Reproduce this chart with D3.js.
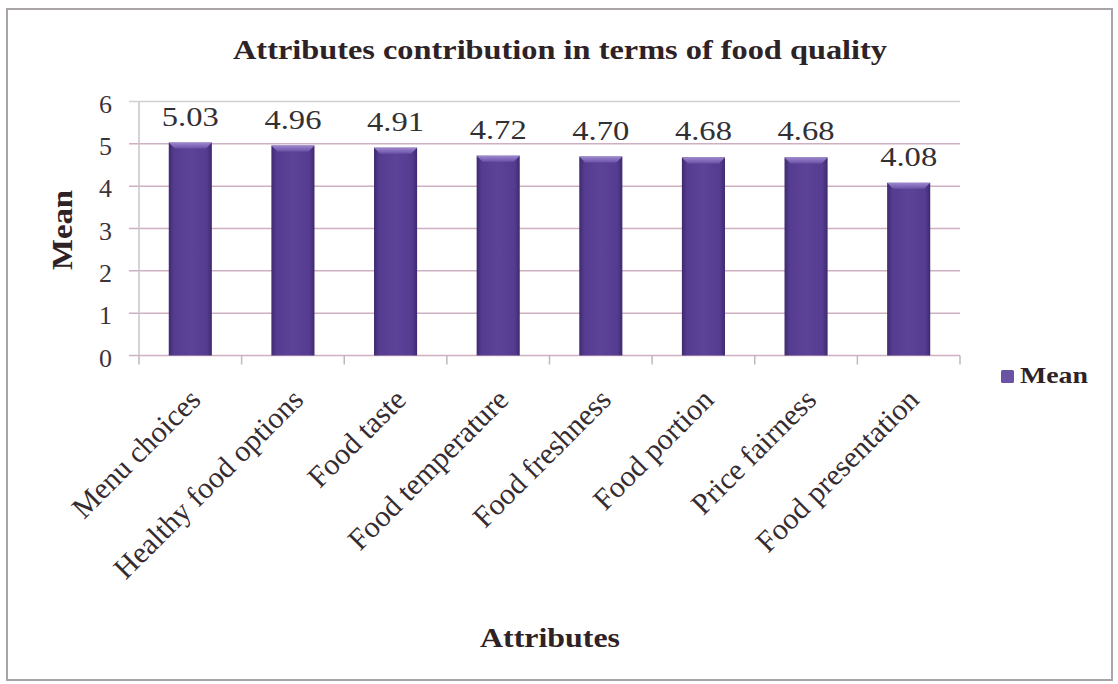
<!DOCTYPE html>
<html>
<head>
<meta charset="utf-8">
<script src="https://cdn.jsdelivr.net/npm/d3@7"></script>
<style>
  html, body { margin: 0; padding: 0; background: #fff; }
  svg { display: block; }
</style>
</head>
<body>
<svg id="chart" width="1118" height="684"></svg>
<script>
// Attribute means for food quality
const categories = ["Menu choices", "Healthy food options", "Food taste", "Food temperature",
  "Food freshness", "Food portion", "Price fairness", "Food presentation"];
const meanValues = [5.03, 4.96, 4.91, 4.72, 4.70, 4.68, 4.68, 4.08];
const valueLabels = ["5.03", "4.96", "4.91", "4.72", "4.70", "4.68", "4.68", "4.08"];
const yTicks = [0, 1, 2, 3, 4, 5, 6];
const seriesName = "Mean";

const svg = d3.select("#chart");
const W = 1118, H = 684;
const serif = "'Liberation Serif', 'Times New Roman', serif";

// outer frame
svg.append("rect").attr("x", 7).attr("y", 9).attr("width", W - 13).attr("height", H - 13)
  .attr("fill", "#fff").attr("stroke", "#a9a4a8").attr("stroke-width", 2);

const plot = { left: 139, right: 960, top: 101.5, bottom: 355.5 };

const x = d3.scaleBand().domain(categories).range([plot.left, plot.right]).paddingInner(0.58).paddingOuter(0.29);
const xEdge = d3.scaleBand().domain(categories).range([plot.left, plot.right]);
const y = d3.scaleLinear().domain([0, 6]).range([plot.bottom, plot.top]);

// gradients for the bars
const defs = svg.append("defs");
const g1 = defs.append("linearGradient").attr("id", "barFill").attr("x1", 0).attr("x2", 1).attr("y1", 0).attr("y2", 0);
g1.append("stop").attr("offset", "0%").attr("stop-color", "#3e2a70");
g1.append("stop").attr("offset", "12%").attr("stop-color", "#563c90");
g1.append("stop").attr("offset", "50%").attr("stop-color", "#5d4398");
g1.append("stop").attr("offset", "88%").attr("stop-color", "#563c90");
g1.append("stop").attr("offset", "100%").attr("stop-color", "#3e2a70");
const g2 = defs.append("linearGradient").attr("id", "capFill").attr("x1", 0).attr("x2", 0).attr("y1", 0).attr("y2", 1);
g2.append("stop").attr("offset", "0%").attr("stop-color", "#9c88cf");
g2.append("stop").attr("offset", "100%").attr("stop-color", "#6b52a6");

// horizontal gridlines (they run a little past the axis as tick marks)
svg.append("g").selectAll("line").data(yTicks).join("line")
  .attr("x1", plot.left - 10).attr("x2", plot.right)
  .attr("y1", d => y(d)).attr("y2", d => y(d))
  .attr("stroke", d => d === 6 ? "#d2d0d2" : "#cdb0c2").attr("stroke-width", 1.5);

// left axis line
svg.append("line").attr("x1", plot.left).attr("x2", plot.left)
  .attr("y1", plot.top).attr("y2", plot.bottom)
  .attr("stroke", "#c9c3c8").attr("stroke-width", 1.5);

// category ticks below the base line
svg.append("g").selectAll("line").data(categories.concat(["__end"])).join("line")
  .attr("x1", (d, i) => i < categories.length ? xEdge(d) : plot.right)
  .attr("x2", (d, i) => i < categories.length ? xEdge(d) : plot.right)
  .attr("y1", plot.bottom).attr("y2", plot.bottom + 9)
  .attr("stroke", "#c2b6bf").attr("stroke-width", 1.5);

// y tick labels
svg.append("g").selectAll("text").data(yTicks).join("text")
  .attr("x", 112).attr("y", d => y(d) + 2).attr("dy", "0.35em")
  .attr("text-anchor", "end")
  .attr("font-family", serif).attr("font-size", 26).attr("fill", "#3c3438")
  .text(d => d);

// bars
const bars = svg.append("g");
bars.selectAll("rect").data(meanValues).join("rect")
  .attr("x", (d, i) => x(categories[i]))
  .attr("y", d => y(d))
  .attr("width", x.bandwidth())
  .attr("height", d => y(0) - y(d))
  .attr("fill", "url(#barFill)");
// bevelled top of each bar
bars.selectAll("path").data(meanValues).join("path")
  .attr("d", (d, i) => {
    const x0 = x(categories[i]), w = x.bandwidth(), t = y(d), b = 6;
    return `M${x0},${t}L${x0 + w},${t}L${x0 + w - b},${t + b}L${x0 + b},${t + b}Z`;
  })
  .attr("fill", "url(#capFill)");

// value labels
svg.append("g").selectAll("text").data(meanValues).join("text")
  .attr("x", (d, i) => x(categories[i]) + x.bandwidth() / 2)
  .attr("y", d => y(d) - 17)
  .attr("text-anchor", "middle")
  .attr("font-family", serif).attr("font-size", 28).attr("fill", "#333033")
  .attr("textLength", 57).attr("lengthAdjust", "spacingAndGlyphs")
  .text((d, i) => valueLabels[i]);

// rotated category labels
svg.append("g").selectAll("text").data(categories).join("text")
  .attr("transform", d => `translate(${x(d) + x.bandwidth() / 2 + 12},${plot.bottom + 46}) rotate(-45)`)
  .attr("text-anchor", "end")
  .attr("font-family", serif).attr("font-size", 30).attr("fill", "#352c31")
  .text(d => d);

// chart title
svg.append("text").attr("x", 560).attr("y", 59).attr("text-anchor", "middle")
  .attr("font-family", serif).attr("font-weight", "bold").attr("font-size", 27)
  .attr("fill", "#2e2226")
  .attr("textLength", 654).attr("lengthAdjust", "spacingAndGlyphs")
  .text("Attributes contribution in terms of food quality");

// y axis title
svg.append("text").attr("transform", "translate(72,230) rotate(-90)")
  .attr("text-anchor", "middle")
  .attr("font-family", serif).attr("font-weight", "bold").attr("font-size", 29)
  .attr("fill", "#2e2226")
  .attr("textLength", 80).attr("lengthAdjust", "spacingAndGlyphs")
  .text("Mean");

// x axis title
svg.append("text").attr("x", 550).attr("y", 647).attr("text-anchor", "middle")
  .attr("font-family", serif).attr("font-weight", "bold").attr("font-size", 27)
  .attr("fill", "#2e2226")
  .attr("textLength", 140).attr("lengthAdjust", "spacingAndGlyphs")
  .text("Attributes");

// legend
const lg = svg.append("g").attr("transform", "translate(1001,370)");
lg.append("rect").attr("width", 13).attr("height", 13).attr("rx", 1.5)
  .attr("fill", "#6a52a4");
lg.append("text").attr("x", 19).attr("y", 13)
  .attr("font-family", serif).attr("font-weight", "bold").attr("font-size", 23)
  .attr("fill", "#2e2226")
  .attr("textLength", 68).attr("lengthAdjust", "spacingAndGlyphs")
  .text(seriesName);
</script>
</body>
</html>
